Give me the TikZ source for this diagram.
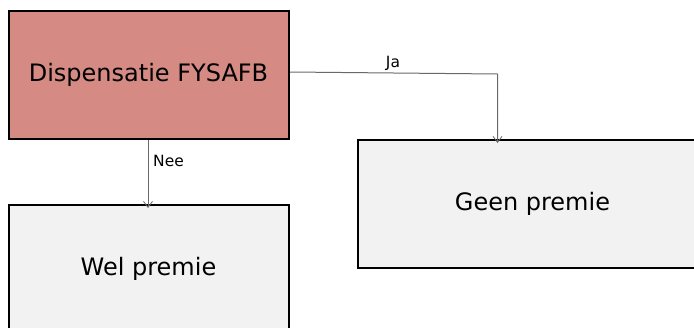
\documentclass[tikz,border=0pt]{standalone}
\usepackage{fontspec}
\setmainfont{DejaVu Sans}
\usetikzlibrary{arrows.meta}
\definecolor{redfill}{RGB}{213,138,132}
\definecolor{greyfill}{RGB}{242,242,242}
\definecolor{connector}{RGB}{105,105,105}
\tikzset{
  boxnode/.style={draw=black, line width=2pt, rectangle, inner sep=0pt,
    font=\fontsize{24}{28}\selectfont},
  conn/.style={draw=connector, line width=1pt, -{Straight Barb[length=6pt,width=9pt,line width=0.8pt]}},
  lbl/.style={font=\fontsize{15.5}{18}\selectfont, inner sep=0pt}
}
\begin{document}
\begin{tikzpicture}[x=1pt,y=-1pt]
\useasboundingbox (0,0) rectangle (694,327);
\clip (0,0) rectangle (694,327);
\node[boxnode, fill=redfill, minimum width=280pt, minimum height=128pt] (top) at (148.5,75) {Dispensatie FYSAFB};
\node[boxnode, fill=greyfill, minimum width=280pt, minimum height=128pt] (wel) at (148.5,269) {Wel premie};
\node[boxnode, fill=greyfill, minimum width=349pt, minimum height=128pt] (geen) at (532.5,204) {Geen premie};
\coordinate (s1) at (290,72);
\coordinate (c1) at (497.5,74);
\coordinate (t1) at ([yshift=-4pt]c1 |- geen.north);
\draw[conn] (s1) -- (c1) -- (t1);
\node[lbl] (ja) at (393,63) {Ja};
\coordinate (s2) at (148,140);
\coordinate (t2) at ([yshift=-4pt]wel.north -| s2);
\draw[conn] (s2) -- (t2);
\node[lbl, anchor=west] (nee) at (153,161) {Nee};
\end{tikzpicture}
\end{document}
